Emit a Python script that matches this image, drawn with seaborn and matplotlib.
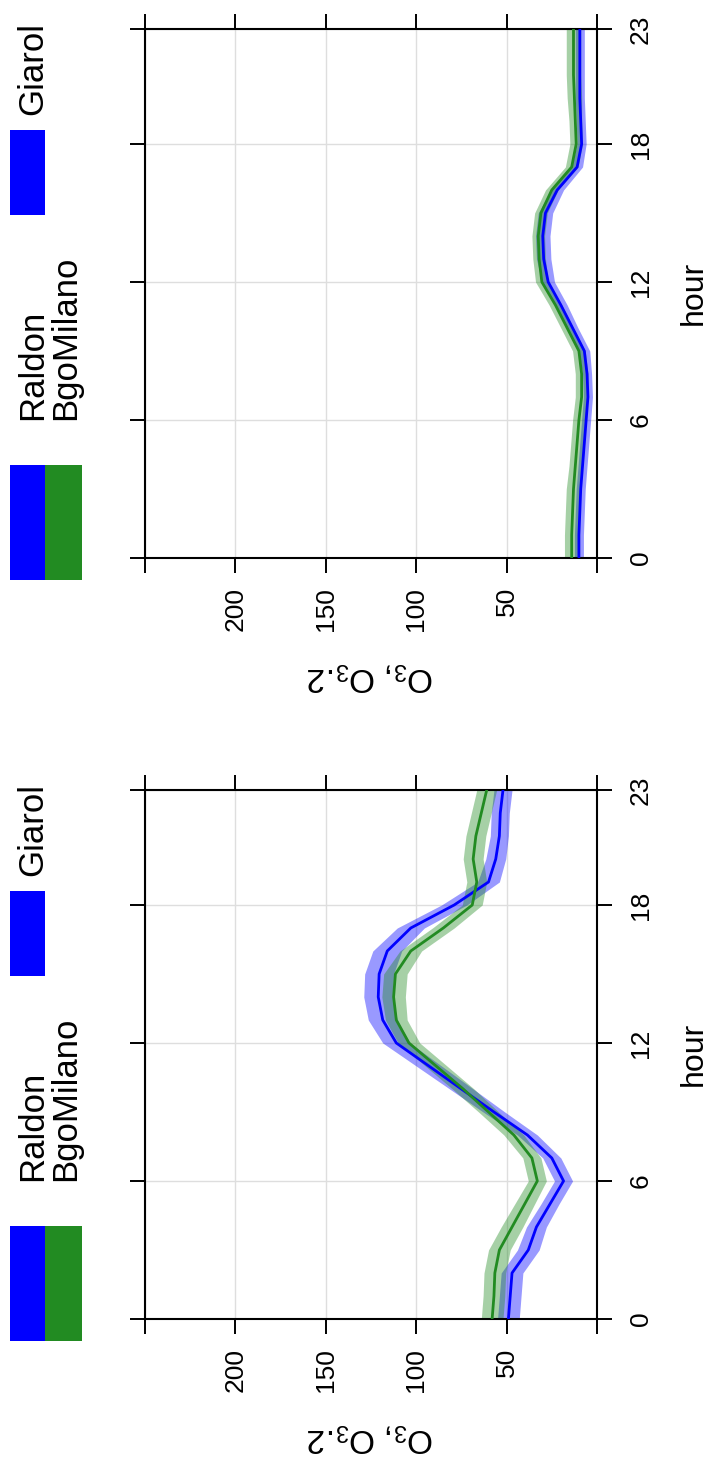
import numpy as np
import pandas as pd
import matplotlib
matplotlib.use("Agg")
import matplotlib.pyplot as plt
import seaborn as sns
from matplotlib.patches import Rectangle

# ---------------- data ----------------
hours = list(range(24))
series_names = ["Raldon", "BgoMilano"]
legend_pair = ["Raldon", "BgoMilano"]
legend_single = ["Giarol"]
series_colors = {"Raldon": "#0000FF", "BgoMilano": "#228B22"}

# left panel of the original (drawn at the bottom)
left_raldon = [49, 48, 47, 38, 33.5, 26, 18.5, 25, 38.5, 57, 75, 93, 111, 118.5,
               121, 120.5, 116, 103, 79, 60, 56, 54, 53.5, 52]
left_bgomilano = [58, 57, 56.5, 54, 47, 40, 33, 36, 46, 60, 74, 89, 104, 111,
                  112.5, 111.5, 103, 85, 69, 66.5, 68.5, 67, 64, 61]
left_raldon_hw = [6, 6, 6, 6, 5.5, 5, 5, 5, 5.5, 6, 6.5, 7, 7.5, 8, 8, 8, 8,
                  7.5, 7, 6, 5.5, 5, 5, 5]
left_bgomilano_hw = [6, 6, 6, 6, 6, 5.5, 5, 5, 5.5, 5.5, 6, 6, 6, 6, 6.5, 6.5,
                     6, 6, 5.5, 5.5, 5.5, 5.5, 5.5, 5.5]

# right panel of the original (drawn at the top)
right_raldon = [10, 10, 9.5, 9, 8, 7, 6, 5, 5.5, 7, 13.5, 20, 27, 29.5, 30,
                28.5, 22, 11, 8.5, 9, 9.5, 9.5, 9.5, 9.5]
right_bgomilano = [14, 14, 13.5, 13, 12, 11, 10, 8.5, 8.5, 10, 16.5, 23, 30.5,
                   32, 32.5, 31, 25, 14, 11.5, 12, 12.5, 13, 13, 13]
right_raldon_hw = [2.5, 2.5, 2.5, 2.5, 2.5, 2.5, 2.5, 2.5, 2.5, 3, 3, 3.5, 3.5,
                   4, 4, 4, 3.5, 3, 2.5, 2.5, 2.5, 2.5, 2.5, 2.5]
right_bgomilano_hw = [4, 4, 4, 4, 3.5, 3.5, 3.5, 3.5, 3.5, 3.5, 3.5, 3.5, 3.5,
                      3.5, 3.5, 3.5, 3.5, 3.5, 3.5, 3.5, 4, 4, 4, 4]

value_ticks = [0, 50, 100, 150, 200, 250]
value_tick_labels = ["", "50", "100", "150", "200", ""]
hour_ticks = [0, 6, 12, 18, 23]
hour_tick_labels = ["0", "6", "12", "18", "23"]
value_label = r"O$_3$, O$_3$.2"
hour_label = "hour"

# ---------------- style ----------------
sns.set_theme(style="white")
plt.rcParams["font.family"] = ["Liberation Sans", "DejaVu Sans"]
plt.rcParams["mathtext.fontset"] = "custom"
plt.rcParams["mathtext.rm"] = "Liberation Sans"
plt.rcParams["mathtext.it"] = "Liberation Sans:italic"
plt.rcParams["mathtext.bf"] = "Liberation Sans:bold"

W, H = 712, 1463
fig = plt.figure(figsize=(W / 100, H / 100), dpi=100)
fig.patch.set_facecolor("white")


def fx(x):
    return x / W


def fy(y):
    return 1 - y / H


panels = [
    (29, {"Raldon": right_raldon, "BgoMilano": right_bgomilano},
     {"Raldon": right_raldon_hw, "BgoMilano": right_bgomilano_hw}),
    (790, {"Raldon": left_raldon, "BgoMilano": left_bgomilano},
     {"Raldon": left_raldon_hw, "BgoMilano": left_bgomilano_hw}),
]

box_left, box_right, box_h = 145, 597, 529

for top, vals, hws in panels:
    ax = fig.add_axes([fx(box_left), fy(top + box_h), (box_right - box_left) / W, box_h / H])
    rows = []
    for name in series_names:
        for h, v in zip(hours, vals[name]):
            rows.append({"hour": h, "value": v, "site": name})
    df = pd.DataFrame(rows)

    ax.grid(True, color="#dedede", lw=1.0)
    ax.set_axisbelow(True)
    for name in series_names:
        v = np.array(vals[name], dtype=float)
        hw = np.array(hws[name], dtype=float)
        ax.fill_betweenx(hours, v - hw, v + hw, color=series_colors[name],
                         alpha=0.4, lw=0, zorder=2)
    sns.lineplot(data=df, x="value", y="hour", hue="site", palette=series_colors,
                 hue_order=series_names, orient="y", estimator=None, errorbar=None,
                 lw=2.0, legend=False, ax=ax, zorder=3)

    ax.set_xlim(250, 0)
    ax.set_ylim(0, 23)
    ax.set_xticks(value_ticks)
    ax.set_xticklabels(value_tick_labels, rotation=90, fontsize=19)
    ax.set_yticks(hour_ticks)
    ax.yaxis.tick_right()
    ax.set_yticklabels(hour_tick_labels, rotation=90, va="center", fontsize=19)
    ax.tick_params(axis="both", which="both", direction="out", length=11, width=1.4,
                   color="black", labelcolor="black",
                   top=True, bottom=True, left=True, right=True,
                   labeltop=False, labelbottom=True, labelleft=False, labelright=True)
    ax.tick_params(axis="x", pad=10)
    ax.tick_params(axis="y", pad=12)
    ax.set_xlabel("")
    ax.set_ylabel("")
    for sp in ax.spines.values():
        sp.set_visible(True)
        sp.set_color("black")
        sp.set_linewidth(1.5)

    # axis titles
    fig.text(fx(370), fy(top + 647), value_label, rotation=180, ha="center",
             va="center", fontsize=24, color="black")
    fig.text(fx(694), fy(top + 264), hour_label, rotation=90, ha="center",
             va="center", fontsize=23, color="black")

    # legend (key at the original top)
    fig.patches.append(Rectangle((fx(10), fy(top + 551)), 35 / W, 115 / H,
                                 transform=fig.transFigure, color=series_colors["Raldon"], lw=0))
    fig.patches.append(Rectangle((fx(45), fy(top + 551)), 37 / W, 115 / H,
                                 transform=fig.transFigure, color=series_colors["BgoMilano"], lw=0))
    fig.patches.append(Rectangle((fx(10), fy(top + 186)), 35 / W, 85 / H,
                                 transform=fig.transFigure, color=series_colors["Raldon"], lw=0))
    fig.text(fx(42), fy(top + 391), legend_pair[0], rotation=90, rotation_mode="anchor",
             ha="left", va="baseline", fontsize=25, color="black")
    fig.text(fx(75), fy(top + 391), legend_pair[1], rotation=90, rotation_mode="anchor",
             ha="left", va="baseline", fontsize=25, color="black")
    fig.text(fx(42), fy(top + 86), legend_single[0], rotation=90, rotation_mode="anchor",
             ha="left", va="baseline", fontsize=25, color="black")

fig.savefig("out.png", dpi=100, facecolor="white")
